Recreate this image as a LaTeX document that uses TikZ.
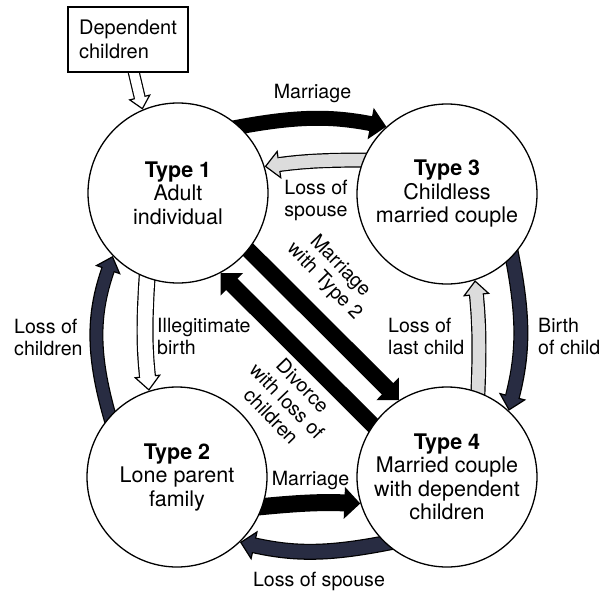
\documentclass[tikz,border=0pt]{standalone}
\usepackage{fontspec}
\setmainfont{TeX Gyre Heros}
\usetikzlibrary{arrows.meta,backgrounds}
\definecolor{darkst}{RGB}{40,44,66}
\definecolor{lightst}{RGB}{220,220,220}
\tikzset{
  state/.style={circle, draw, line width=1.3pt, fill=white, minimum size=180pt, inner sep=0pt, align=center, font=\fontsize{21.5}{23.5}\selectfont},
  box/.style={draw, line width=1.4pt, fill=white, minimum width=120pt, minimum height=65pt, inner sep=0pt, align=left, font=\fontsize{20}{24}\selectfont},
  lbl/.style={inner sep=0pt, font=\fontsize{19.6}{22}\selectfont},
  blk/.style={line width=#1, shorten <=-10pt, -{Triangle[width=31pt,length=16pt]}},
  hollow/.style n args={4}{line width=#2, shorten <=-10pt, -{Triangle[width=#4,length=15pt,fill=#1,line width=1.2pt]}, postaction={draw=#1, line width=#3, -, shorten >=13pt}},
  hollowsm/.style={line width=12pt, shorten <=-8pt, -{Triangle[width=23pt,length=13pt,fill=white,line width=1.2pt]}, postaction={draw=white, line width=9.6pt, -, shorten >=11pt}}
}
\begin{document}
\begin{tikzpicture}[x=1pt,y=-1pt]
\useasboundingbox (0,0) rectangle (600,592);
\node[state] (t1) at (178,193) {\textbf{Type 1}\\Adult\\individual};
\node[state] (t3) at (447,194) {\textbf{Type 3}\\Childless\\married couple};
\node[state] (t2) at (177,477) {\textbf{Type 2}\\Lone parent\\family};
\node[state] (t4) at (447,477) {\textbf{Type 4}\\Married couple\\with dependent\\children};
\node[box] (dep) at (128,39.5) {Dependent\\children};

\begin{pgfonlayer}{background}
\fill[white] (0,0) rectangle (600,592);
\draw[blk=15pt] (t1.47) to[bend left=11] (t3.132);
\draw[hollow={lightst}{15pt}{12.6pt}{29pt}] (t3.158) to[bend right=4] (t1.17);
\draw[blk=16pt] (t1.-39) -- (t4.122);
\draw[blk=16pt] (t4.145) -- (t1.-62);
\draw[hollow={darkst}{14pt}{11.6pt}{27pt}] (t2.138) to[bend left=18] (t1.-136);
\draw[hollow={white}{17pt}{14.6pt}{27pt}] (t1.-110) to[bend right=5] (t2.108);
\draw[hollow={lightst}{15pt}{12.6pt}{27pt}] (t4.70) to[bend right=4] (t3.-72);
\draw[hollow={darkst}{15pt}{12.6pt}{28pt}] (t3.-44) to[bend left=13] (t4.47);
\draw[blk=17pt] (t2.-19) to[bend left=4] (t4.197);
\draw[hollow={darkst}{16pt}{13.6pt}{30pt}] (t4.-133) to[bend left=12] (t2.-46);
\draw[hollowsm] (dep.-80) -- (t1.113);
\end{pgfonlayer}

\node[lbl, anchor=base] (lm1) at (312.5,98) {Marriage};
\node[lbl, align=center, anchor=north] (ls1) at (316,180) {Loss of\\spouse};
\node[lbl, align=center, rotate=-46] (lmt2) at (332,274) {Marriage\\with Type 2};
\node[lbl, align=center, rotate=-46] (ldiv) at (287,401) {Divorce\\with loss of\\children};
\node[lbl, align=left, anchor=north west] (lch) at (14,318.5) {Loss of\\children};
\node[lbl, align=left, anchor=north west] (lil) at (157,318) {Illegitimate\\birth};
\node[lbl, align=left, anchor=north west] (llc) at (388,318) {Loss of\\last child};
\node[lbl, align=left, anchor=north west] (lbc) at (538,318) {Birth\\of child};
\node[lbl, anchor=base] (lm2) at (310.5,485) {Marriage};
\node[lbl, anchor=base] (ls2) at (319,586) {Loss of spouse};
\end{tikzpicture}
\end{document}
